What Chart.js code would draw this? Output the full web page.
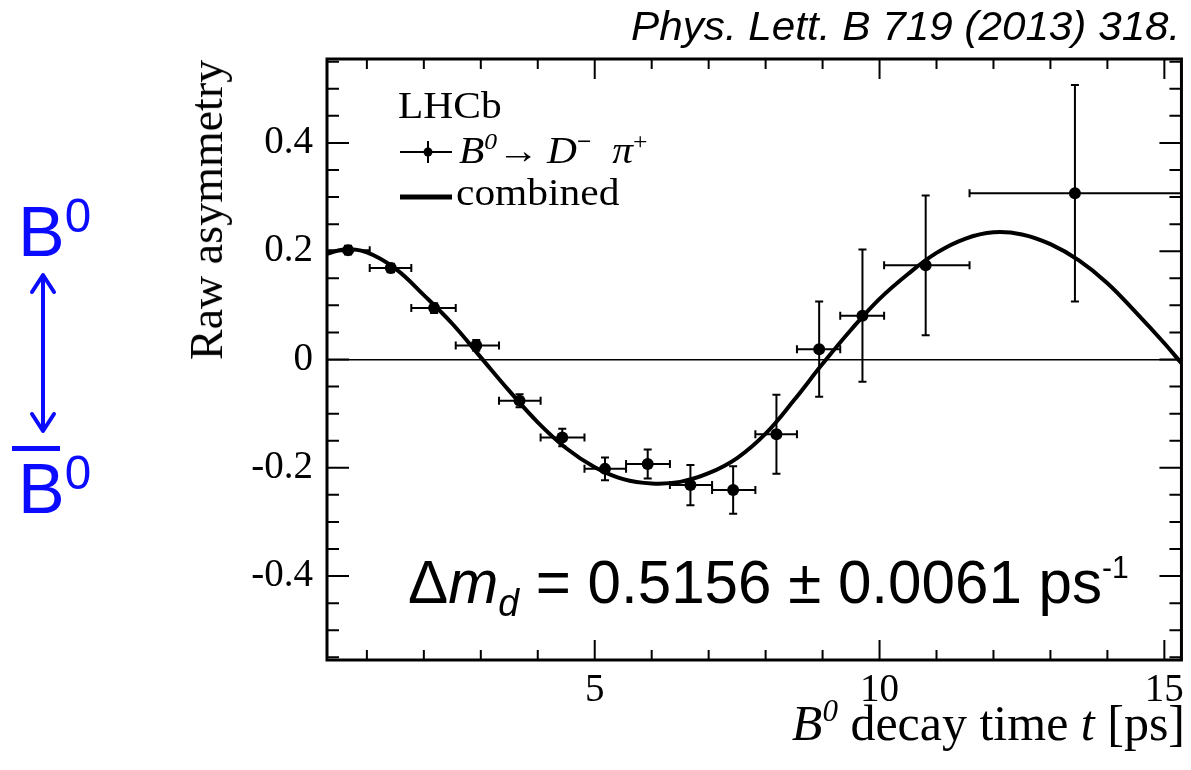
<!DOCTYPE html>
<html>
<head>
<meta charset="utf-8">
<script src="https://cdn.jsdelivr.net/npm/chart.js@4.4.1/dist/chart.umd.min.js"></script>
<style>
  body { margin: 0; background: #fff; }
  #wrap { position: relative; width: 1191px; height: 770px; overflow: hidden; }
  #wrap canvas { position: absolute; left: 0; top: 0; }
  .t { position: absolute; white-space: nowrap; line-height: 1; color: #000; }
  .serif { font-family: "Liberation Serif", "DejaVu Serif", serif; }
  .sans { font-family: "Liberation Sans", Arial, sans-serif; }
  .sup { position: relative; font-size: 0.62em; top: -0.62em; }
  .sub { position: relative; font-size: 0.62em; top: 0.35em; }
  .blue { color: #0b0bff; }
</style>
</head>
<body>
<div id="wrap">
  <canvas id="osc" width="1191" height="770"></canvas>

  <!-- citation -->
  <div class="t sans" style="right:11px; top:6px; font-size:41px; font-style:italic; transform:scaleX(1.03); transform-origin:right;">Phys. Lett. B 719 (2013) 318.</div>

  <!-- axis titles -->
  <div class="t serif" style="left:207px; top:210px; font-size:46px; transform:translate(-50%,-50%) rotate(-90deg);">Raw asymmetry</div>
  <div class="t serif" style="right:6px; top:698px; font-size:50px;"><i>B</i><span class="sup"><i>0</i></span> decay time <i>t</i> [ps]</div>

  <!-- legend -->
  <div class="t serif" style="left:398px; top:87px; font-size:37px; transform:scaleX(1.12); transform-origin:left;">LHCb</div>
  <svg style="position:absolute; left:398px; top:138px;" width="58" height="28">
    <line x1="2" y1="14" x2="54" y2="14" stroke="#000" stroke-width="2"/>
    <line x1="30" y1="3" x2="30" y2="25" stroke="#000" stroke-width="2"/>
    <circle cx="30" cy="14" r="4.5" fill="#000"/>
  </svg>
  <div class="t serif" style="left:459px; top:132px; font-size:37px; transform:scaleX(1.12); transform-origin:left;"><i>B</i><span class="sup"><i>0</i></span>&#8594;&#8201;<i>D</i><span class="sup" style="font-weight:bold;">&#8722;</span>&#8194;<i>&#960;</i><span class="sup">+</span></div>
  <svg style="position:absolute; left:398px; top:190px;" width="58" height="14">
    <line x1="2" y1="7" x2="54" y2="7" stroke="#000" stroke-width="5"/>
  </svg>
  <div class="t serif" style="left:456px; top:174px; font-size:37px; transform:scaleX(1.12); transform-origin:left;">combined</div>

  <!-- result -->
  <div class="t sans" style="left:408px; top:551px; font-size:62px; transform:scaleX(0.97); transform-origin:left;">&#916;<i>m</i><span class="sub"><i>d</i></span> = 0.5156 &#177; 0.0061 ps<span class="sup" style="font-size:0.5em; top:-0.8em;">-1</span></div>

  <!-- B0 <-> B0bar -->
  <div class="t sans blue" style="left:18px; top:197px; font-size:70px;">B<span class="sup" style="font-size:0.68em; top:-0.5em;">0</span></div>
  <svg style="position:absolute; left:28px; top:270px;" width="32" height="168">
    <line x1="15" y1="6" x2="15" y2="160" stroke="#0b0bff" stroke-width="4"/>
    <polyline points="4,22 15,5 26,22" fill="none" stroke="#0b0bff" stroke-width="4" stroke-linecap="round" stroke-linejoin="round"/>
    <polyline points="4,144 15,161 26,144" fill="none" stroke="#0b0bff" stroke-width="4" stroke-linecap="round" stroke-linejoin="round"/>
  </svg>
  <div style="position:absolute; left:12px; top:446px; width:48px; height:5px; background:#0b0bff;"></div>
  <div class="t sans blue" style="left:18px; top:454px; font-size:70px;">B<span class="sup" style="font-size:0.68em; top:-0.5em;">0</span></div>
</div>

<script>

/* LHCb B0 -> D- pi+ raw asymmetry vs decay time */

const timeCentre = [0.67, 1.42, 2.18, 2.92, 3.68, 4.43, 5.18, 5.93, 6.68, 7.43, 8.19, 8.94, 9.70, 10.81, 13.43];
const timeLow    = [0.30, 1.05, 1.78, 2.56, 3.32, 4.05, 4.82, 5.55, 6.32, 7.06, 7.82, 8.55, 9.31, 10.08, 11.58];
const timeHigh   = [1.05, 1.78, 2.56, 3.32, 4.05, 4.82, 5.55, 6.32, 7.06, 7.82, 8.55, 9.31, 10.08, 11.58, 15.30];
const asym       = [0.202, 0.169, 0.095, 0.026, -0.076, -0.144, -0.202, -0.193, -0.232, -0.241, -0.138, 0.019, 0.081, 0.174, 0.307];
const asymErr    = [0.008, 0.008, 0.009, 0.010, 0.012, 0.016, 0.021, 0.027, 0.037, 0.044, 0.073, 0.088, 0.122, 0.129, 0.200];

// combined fit curve (sampled off the figure)
const curveT = [0.3, 0.6, 1.0, 1.5, 2.0, 2.5, 3.0, 3.5, 4.0, 4.5, 5.0, 5.5, 6.0, 6.5, 7.0, 7.5, 8.0, 8.5,
                9.0, 9.5, 10.0, 10.5, 11.0, 11.5, 12.0, 12.5, 13.0, 13.5, 14.0, 14.5, 15.0, 15.3];
const curveV = [0.195, 0.203, 0.198, 0.168, 0.119, 0.066, 0.004, -0.058, -0.116, -0.164, -0.199, -0.221, -0.229, -0.226, -0.210, -0.182, -0.137, -0.075,
                -0.008, 0.055, 0.112, 0.158, 0.197, 0.223, 0.235, 0.231, 0.213, 0.183, 0.141, 0.087, 0.030, -0.007];

// axes
const xRange = [0.3, 15.3];
const yRange = [-0.555, 0.555];
const xTicks = [5, 10, 15];
const yTicks = [-0.4, -0.2, 0, 0.2, 0.4];

const tickFont = { family: 'Liberation Serif', size: 39 };

// error bars
const errorBars = {
    id: 'errorBars',
    afterDatasetsDraw(chart) {
        const ctx = chart.ctx;
        const x = chart.scales.x, y = chart.scales.y;
        ctx.save();
        ctx.strokeStyle = '#000';
        ctx.lineWidth = 2;
        for (let i = 0; i < timeCentre.length; i++) {
            const px = x.getPixelForValue(timeCentre[i]);
            const py = y.getPixelForValue(asym[i]);
            const x0 = x.getPixelForValue(timeLow[i]);
            const x1 = x.getPixelForValue(timeHigh[i]);
            const y0 = y.getPixelForValue(asym[i] - asymErr[i]);
            const y1 = y.getPixelForValue(asym[i] + asymErr[i]);
            ctx.beginPath();
            ctx.moveTo(x0, py); ctx.lineTo(x1, py);
            ctx.moveTo(x0, py - 4); ctx.lineTo(x0, py + 4);
            ctx.moveTo(x1, py - 4); ctx.lineTo(x1, py + 4);
            ctx.moveTo(px, y0); ctx.lineTo(px, y1);
            ctx.moveTo(px - 4, y0); ctx.lineTo(px + 4, y0);
            ctx.moveTo(px - 4, y1); ctx.lineTo(px + 4, y1);
            ctx.stroke();
        }
        ctx.restore();
    }
};

// ROOT style frame with inward ticks
const frameTicks = {
    id: 'frameTicks',
    afterDraw(chart) {
        const ctx = chart.ctx;
        const a = chart.chartArea;
        const x = chart.scales.x, y = chart.scales.y;
        ctx.save();
        ctx.strokeStyle = '#000';
        ctx.lineWidth = 2;
        ctx.beginPath();
        for (let k = -11; k <= 11; k++) {
            const py = y.getPixelForValue(k * 0.05);
            const len = (k % 4 === 0) ? 22 : 12;
            ctx.moveTo(a.left, py); ctx.lineTo(a.left + len, py);
            ctx.moveTo(a.right, py); ctx.lineTo(a.right - len, py);
        }
        for (let t = 1; t <= 15; t++) {
            const px = x.getPixelForValue(t);
            const len = (t % 5 === 0) ? 20 : 10;
            ctx.moveTo(px, a.bottom); ctx.lineTo(px, a.bottom - len);
            ctx.moveTo(px, a.top); ctx.lineTo(px, a.top + len);
        }
        ctx.stroke();
        ctx.lineWidth = 3;
        ctx.strokeRect(a.left, a.top, a.right - a.left, a.bottom - a.top);
        ctx.restore();
    }
};

const ctx_osc = document.getElementById('osc').getContext('2d');
const chart_osc = new Chart(ctx_osc, {
    data: {
        datasets: [{
            type: 'scatter',
            label: 'B0 -> D- pi+',
            data: timeCentre.map((t, i) => ({ x: t, y: asym[i] })),
            backgroundColor: '#000',
            borderWidth: 0,
            pointRadius: 6
        }, {
            type: 'line',
            label: 'combined',
            data: curveT.map((t, i) => ({ x: t, y: curveV[i] })),
            borderColor: '#000',
            borderWidth: 4,
            pointRadius: 0,
            tension: 0.4,
            fill: false
        }]
    },
    options: {
        responsive: false,
        animation: false,
        devicePixelRatio: 1,
        layout: { padding: { left: 247, right: 7, top: 59, bottom: 50 } },
        plugins: {
            legend: { display: false },
            tooltip: { enabled: false }
        },
        scales: {
            x: {
                type: 'linear',
                min: xRange[0],
                max: xRange[1],
                afterBuildTicks: axis => { axis.ticks = xTicks.map(v => ({ value: v })); },
                afterFit: axis => { axis.height = 60; },
                grid: { display: false, drawTicks: false },
                border: { display: false },
                ticks: { font: tickFont, color: '#000', padding: 7, maxRotation: 0 }
            },
            y: {
                type: 'linear',
                min: yRange[0],
                max: yRange[1],
                afterBuildTicks: axis => { axis.ticks = yTicks.map(v => ({ value: v })); },
                afterFit: axis => { axis.width = 80; },
                grid: {
                    drawTicks: false,
                    lineWidth: 1.5,
                    color: c => (c.tick && c.tick.value === 0) ? '#000' : 'rgba(0,0,0,0)'
                },
                border: { display: false },
                ticks: {
                    font: tickFont,
                    color: '#000',
                    padding: 14,
                    callback: v => (v === 0 ? '0' : v.toFixed(1))
                }
            }
        }
    },
    plugins: [errorBars, frameTicks]
});

</script>
</body>
</html>
